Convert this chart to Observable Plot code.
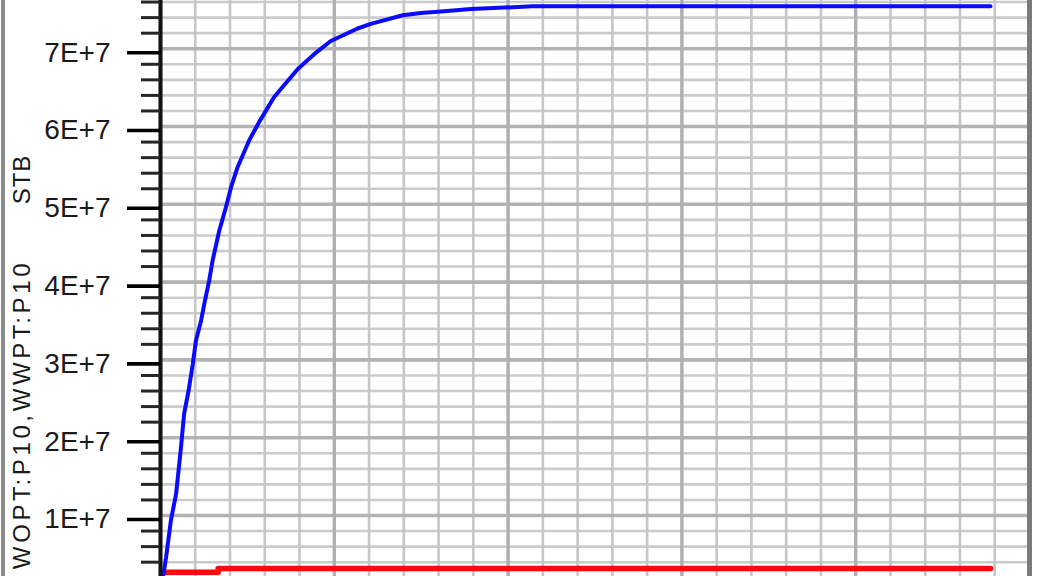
<!DOCTYPE html>
<html>
<head>
<meta charset="utf-8">
<script src="https://cdn.jsdelivr.net/npm/d3@7"></script>
<script src="https://cdn.jsdelivr.net/npm/@observablehq/plot@0.6"></script>
<style>
  html, body { margin: 0; padding: 0; background: #fff; overflow: hidden; }
  #chart { position: relative; width: 1038px; height: 576px; }
  #chart svg { display: block; }
  .bl { position: absolute; left: 1px; top: 0; width: 4px; height: 576px; background: #8c8c8c; }
  .br { position: absolute; left: 1027px; top: 0; width: 5px; height: 576px; background: #7a7a7a; }
</style>
</head>
<body>
<div id="chart"></div>
<script>
// Time (minor grid units) and cumulative totals (STB)
const blueT = [0, 0.16, 0.30, 0.45, 0.59, 0.68, 0.81, 0.93, 1.02, 1.17, 1.26, 1.40, 1.50, 1.69, 1.88, 2.03, 2.22, 2.55, 2.84, 3.27, 3.95, 4.42, 4.90, 5.67, 6.05, 6.97, 7.49, 8.07, 8.93, 10.7, 23.88];
const blueV = [0, 4.6e6, 9.4e6, 12.8e6, 18.8e6, 23.1e6, 26.1e6, 29.5e6, 32.5e6, 35.1e6, 37.2e6, 40.2e6, 42.8e6, 46.6e6, 49.6e6, 52.2e6, 54.8e6, 58.2e6, 60.6e6, 63.8e6, 67.4e6, 69.3e6, 71.0e6, 72.6e6, 73.2e6, 74.3e6, 74.6e6, 74.8e6, 75.1e6, 75.45e6, 75.45e6];
const redT = [0.1, 1.66, 1.66, 23.88];
const redV = [2.72e6, 2.72e6, 3.2e6, 3.2e6];
const yTicks = [0, 1e7, 2e7, 3e7, 4e7, 5e7, 6e7, 7e7];
const yMinorTicks = [2e6, 4e6, 6e6, 8e6, 12e6, 14e6, 16e6, 18e6, 22e6, 24e6, 26e6, 28e6,
  32e6, 34e6, 36e6, 38e6, 42e6, 44e6, 46e6, 48e6, 52e6, 54e6, 56e6, 58e6,
  62e6, 64e6, 66e6, 68e6, 72e6, 74e6, 76e6];
const yTitle = "WOPT:P10,WWPT:P10";
const yUnit = "STB";

const blue = blueT.map((t, i) => ({t, v: blueV[i]}));
const red = redT.map((t, i) => ({t, v: redV[i]}));

function sci(d) {
  if (d === 0) return "0E+0";
  const e = Math.floor(Math.log10(Math.abs(d)));
  const m = Math.round(d / Math.pow(10, e) * 100) / 100;
  return `${m}E+${e}`;
}

const font = "'Liberation Sans', Arial, sans-serif";

const chart = Plot.plot({
  width: 1038,
  height: 576,
  marginLeft: 160,
  marginRight: 9,
  marginTop: 0,
  marginBottom: 0,
  style: {background: "#fff", fontFamily: font},
  x: {domain: [0, 25], axis: null, label: null},
  y: {domain: [0, 7.62e7], range: [592.8, 0], axis: null, label: null},
  marks: [
    Plot.gridY({interval: 2e6, stroke: "#cbcbcb", strokeOpacity: 1, strokeWidth: 2.6}),
    Plot.gridX({interval: 1, stroke: "#c6c6c6", strokeOpacity: 1, strokeWidth: 2.6}),
    Plot.gridY(yTicks, {stroke: "#b3b3b3", strokeOpacity: 1, strokeWidth: 3.6}),
    Plot.gridX({interval: 5, stroke: "#b0b0b0", strokeOpacity: 1, strokeWidth: 3.4}),
    Plot.line(red, {x: "t", y: "v", stroke: "#ff0a0a", strokeWidth: 5.5}),
    Plot.line(blue, {x: "t", y: "v", stroke: "#0a0aff", strokeWidth: 4}),
    Plot.ruleX([0], {stroke: "#111", strokeWidth: 4}),
    Plot.axisY(yMinorTicks, {anchor: "left", tickSize: 19, tickFormat: () => "", label: null, stroke: "#262626", strokeWidth: 3}),
    Plot.axisY(yTicks, {anchor: "left", tickSize: 33, tickPadding: 17, tickFormat: sci, label: null,
      stroke: "#000", strokeWidth: 3.6, fontSize: 28, fill: "#1a1a1a", dy: 4}),
    Plot.text([yTitle], {frameAnchor: "left", rotate: -90, dx: -138.5, dy: 126, fontSize: 24, fill: "#1a1a1a", textAnchor: "middle", lineAnchor: "middle"}),
    Plot.text([yUnit], {frameAnchor: "left", rotate: -90, dx: -138.5, dy: -109, fontSize: 24, fill: "#1a1a1a", textAnchor: "middle", lineAnchor: "middle"})
  ]
});

const host = document.getElementById("chart");
host.appendChild(chart);
d3.select(chart).selectAll("text").filter(function() { return this.textContent === yTitle; })
  .attr("letter-spacing", "3.6px");
d3.select(chart).selectAll("text").filter(function() { return this.textContent === yUnit; })
  .attr("letter-spacing", "1px");
const bl = document.createElement("div"); bl.className = "bl"; host.appendChild(bl);
const br = document.createElement("div"); br.className = "br"; host.appendChild(br);
</script>
</body>
</html>
